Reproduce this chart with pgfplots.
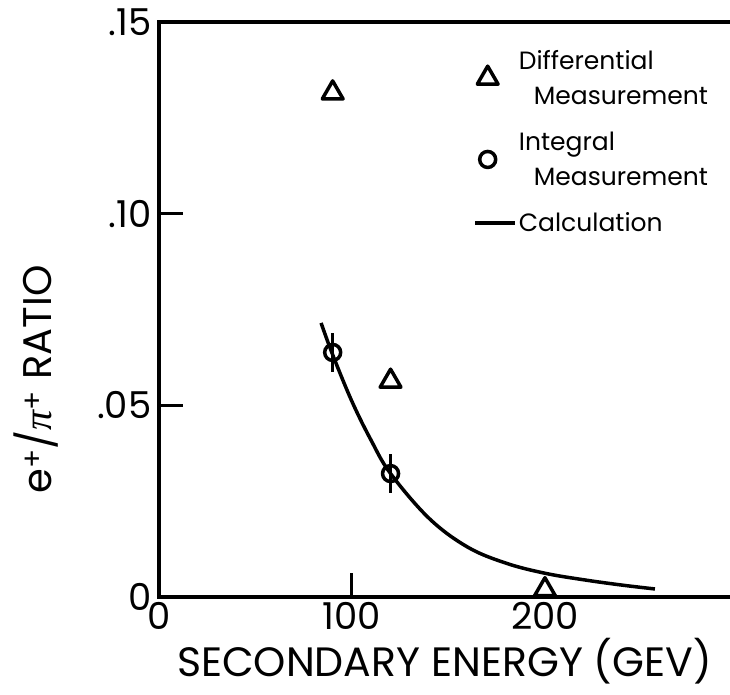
\documentclass[border=0pt]{standalone}
\usepackage{pgfplots}
\pgfplotsset{compat=1.18}
\usepackage{fontspec}
\setmainfont{Poppins}
\newfontfamily\greekfont{Liberation Serif}

% Calculated e+/pi+ ratio versus secondary energy
\pgfplotstableread{
x      y
84     0.0715
90     0.0632
100    0.0510
110    0.0408
120    0.0322
140    0.0205
160    0.0130
180    0.0088
200    0.0062
220    0.0045
240    0.0031
257    0.0021
}\calc

% Integral measurement (with error)
\pgfplotstableread{
x      y        e
90     0.0638   0.0052
120    0.0322   0.0050
}\integral

% Differential measurement
\pgfplotstableread{
x      y
90     0.1315
120    0.0563
200    0.0019
}\differential

\begin{document}
\begin{tikzpicture}
\path[use as bounding box] (-159pt,-97pt) rectangle (571pt,597pt);
\begin{axis}[
  at={(0pt,0pt)}, anchor=south west,
  scale only axis, width=571pt, height=575pt,
  xmin=0, xmax=295.9, ymin=0, ymax=0.15,
  axis x line*=bottom, axis y line*=left,
  axis line style={line width=3.5pt, -, line cap=rect},
  tick align=inside, major tick length=24pt,
  tick style={line width=3pt, black},
  xtick={0,100}, xticklabels={0,100},
  extra x ticks={200}, extra x tick labels={200},
  extra x tick style={major tick length=0pt},
  ytick={0,0.05,0.10,0.15}, yticklabels={0,.05,.10,.15},
  ticklabel style={font=\fontsize{37}{39}\selectfont},
  xticklabel style={yshift=-2pt},
  yticklabel style={xshift=-4pt},
  xlabel={SECONDARY ENERGY (GEV)},
  ylabel={e\textsuperscript{+}/{\greekfont\itshape π}\textsuperscript{+} RATIO},
  xlabel style={font=\fontsize{41}{43}\selectfont, yshift=-2pt},
  ylabel style={font=\fontsize{40}{42}\selectfont, yshift=32pt, xshift=-70pt},
  clip=false,
  reverse legend,
  legend style={draw=none, fill=none, at={(rel axis cs:0.545,0.958)}, anchor=north west,
    font=\fontsize{25}{35}\selectfont, row sep=22pt,
    cells={anchor=west, align=left}},
]
\draw[line width=3.5pt, line cap=rect] (rel axis cs:0,1) -- (rel axis cs:1,1);

\addplot[black, line width=3.5pt, smooth, tension=0.6,
  legend image code/.code={\draw[black, line width=3.5pt] (-4pt,0pt) -- (36pt,0pt);}]
  table[x=x, y=y] {\calc};
\addlegendentry{Calculation}

\addplot[black, only marks, mark=o, mark size=8pt,
  mark options={line width=3.5pt, fill=white},
  error bars/.cd, y dir=both, y explicit,
  error mark=none, error bar style={line width=3pt}]
  table[x=x, y=y, y error=e] {\integral};
\addlegendentry{Integral\\\hspace*{0.6em}Measurement}

\addplot[black, only marks, mark=triangle, mark size=12pt,
  mark options={line width=3.5pt, line join=round, fill=white}]
  table[x=x, y=y] {\differential};
\addlegendentry{Differential\\\hspace*{0.6em}Measurement}
\end{axis}
\end{tikzpicture}
\end{document}
